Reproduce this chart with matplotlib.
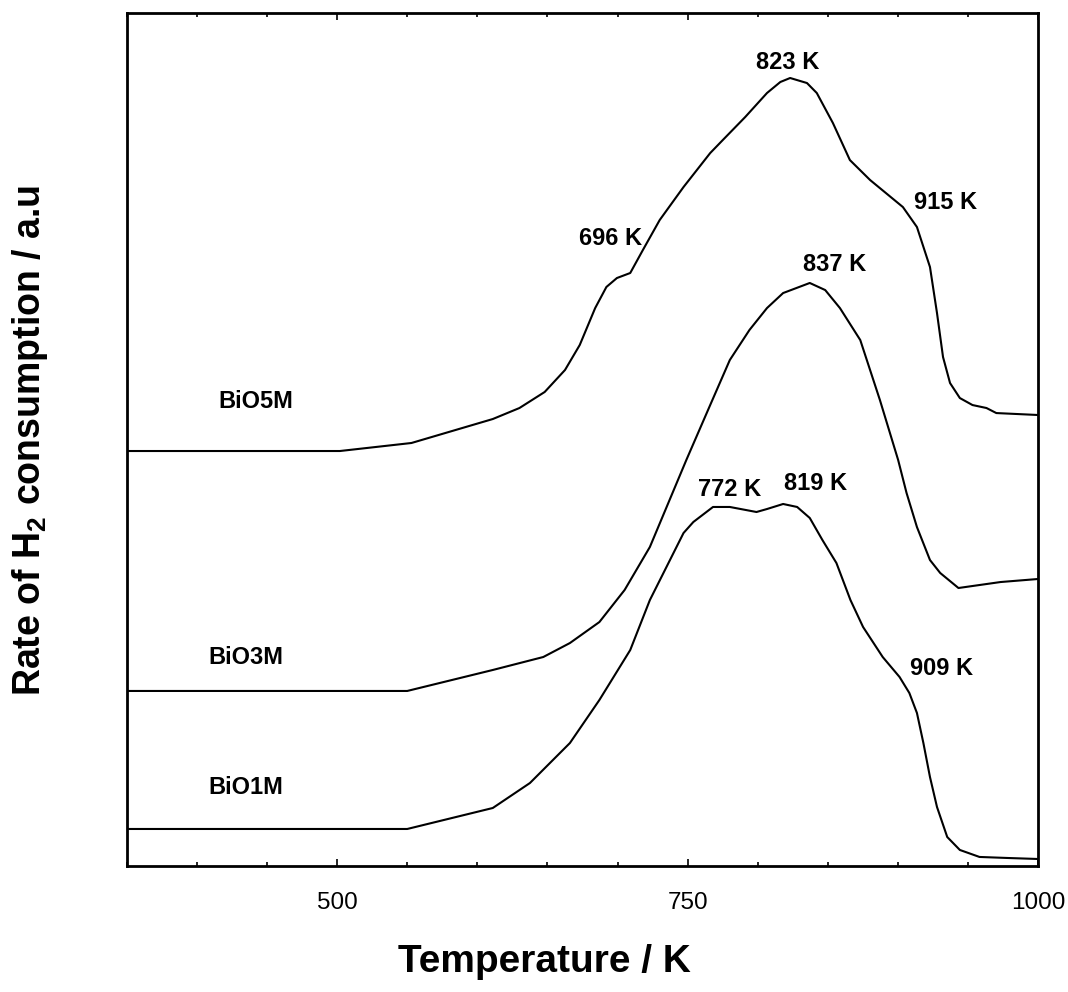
import matplotlib
matplotlib.use("Agg")
import matplotlib.pyplot as plt
from matplotlib import font_manager
from matplotlib.ticker import MultipleLocator

# ---------------- data ----------------
# Temperature (K) and H2 consumption rate (a.u., vertically offset traces)
t_bio5m = [350, 502, 553, 611, 630, 648, 662.5, 673, 684, 692, 699.5, 709, 718,
           730, 747, 766, 775, 791, 806.5, 816, 823, 835, 842, 853.5, 865.6, 880,
           903.4, 913.4, 922.7, 927.7, 932, 937, 944, 953, 963, 970, 1000]
y_bio5m = [48.65, 48.65, 49.59, 52.40, 53.69, 55.57, 58.15, 61.08, 65.41, 67.88,
           68.93, 69.52, 72.21, 75.73, 79.60, 83.58, 85.11, 87.81, 90.62, 91.91,
           92.38, 91.79, 90.62, 87.10, 82.76, 80.42, 77.25, 74.91, 70.22, 64.83,
           59.67, 56.62, 54.86, 54.04, 53.69, 53.10, 52.87]

t_bio3m = [350, 550, 611, 647, 666, 687, 705, 723, 749, 766, 780, 794, 806.5,
           818, 837, 848, 858.5, 873, 887, 900, 906, 913.4, 922.7, 930, 943, 958,
           973, 1000]
y_bio3m = [20.52, 20.52, 22.98, 24.50, 26.14, 28.60, 32.36, 37.40, 47.60, 54.04,
           59.32, 62.84, 65.41, 67.17, 68.35, 67.52, 65.41, 61.66, 54.63, 47.60,
           43.73, 39.74, 35.87, 34.35, 32.59, 32.94, 33.29, 33.65]

t_bio1m = [350, 550, 611, 637.5, 666, 687, 709, 723, 747, 754, 768, 780, 799,
           806.5, 818, 828, 837, 846, 856, 866, 875, 889, 901, 908, 913.4, 918,
           922.7, 927.7, 935, 944, 958, 978, 1000]
y_bio1m = [4.34, 4.34, 6.80, 9.73, 14.42, 19.46, 25.32, 31.18, 39.04, 40.33,
           42.09, 42.09, 41.50, 41.85, 42.44, 42.09, 40.80, 38.22, 35.52, 31.18,
           28.02, 24.50, 22.16, 20.28, 17.94, 14.42, 10.43, 6.92, 3.40, 1.88,
           1.06, 0.94, 0.82]

sample_names = ["BiO5M", "BiO3M", "BiO1M"]
peak_labels = ["823 K", "696 K", "915 K", "837 K", "772 K", "819 K", "909 K"]
x_ticks = [500, 750, 1000]

# ---------------- fonts ----------------
avail = {f.name for f in font_manager.fontManager.ttflist}
narrow = "Liberation Sans Narrow" if "Liberation Sans Narrow" in avail else "Liberation Sans"
wide = "Liberation Sans"
plt.rcParams["mathtext.fontset"] = "custom"
plt.rcParams["mathtext.bf"] = "Liberation Sans:bold"
plt.rcParams["mathtext.rm"] = "Liberation Sans"

# ---------------- figure ----------------
fig = plt.figure(figsize=(10.68, 9.92), dpi=100)
ax = fig.add_axes([126.7 / 1068, 1 - 866 / 992, (1038.4 - 126.7) / 1068, (866 - 13) / 992])

for t, y in [(t_bio5m, y_bio5m), (t_bio3m, y_bio3m), (t_bio1m, y_bio1m)]:
    ax.plot(t, y, color="black", lw=1.5, solid_joinstyle="round")

ax.set_xlim(350, 1000)
ax.set_ylim(0, 100)
ax.set_yticks([])
ax.set_xticks(x_ticks)
ax.xaxis.set_minor_locator(MultipleLocator(50))
ax.tick_params(axis="x", which="both", direction="in", top=True, bottom=True,
               width=1.2, pad=18.5)
ax.tick_params(axis="x", which="major", length=5)
ax.tick_params(axis="x", which="minor", length=3)
for lab in ax.get_xticklabels():
    lab.set_fontfamily(narrow)
    lab.set_fontsize(17.5)
for sp in ax.spines.values():
    sp.set_linewidth(2)

# annotations
ann = dict(fontfamily=narrow, fontweight="bold", fontsize=17, ha="center", va="center")
ax.text(821, 94.25, peak_labels[0], **ann)
ax.text(695, 73.62, peak_labels[1], **ann)
ax.text(934, 77.84, peak_labels[2], **ann)
ax.text(855, 70.46, peak_labels[3], **ann)
ax.text(780, 44.08, peak_labels[4], **ann)
ax.text(841, 44.90, peak_labels[5], **ann)
ax.text(931, 23.21, peak_labels[6], **ann)

ax.text(442, 54.4, sample_names[0], **ann)
ax.text(435, 24.5, sample_names[1], **ann)
ax.text(435, 9.26, sample_names[2], **ann)

ax.set_xlabel("Temperature / K", fontfamily=narrow, fontweight="bold", fontsize=28)
ax.xaxis.set_label_coords((544 - 126.7) / 911.7, (866 - 962) / 853)
ax.xaxis.label.set_va("center")

ax.set_ylabel(r"Rate of H$_\mathbf{2}$ consumption / a.u", fontfamily=wide,
              fontweight="bold", fontsize=27)
ax.yaxis.set_label_coords((30 - 126.7) / 911.7, (866 - 440) / 853)
ax.yaxis.label.set_va("center")

fig.savefig("out.png", dpi=100)
